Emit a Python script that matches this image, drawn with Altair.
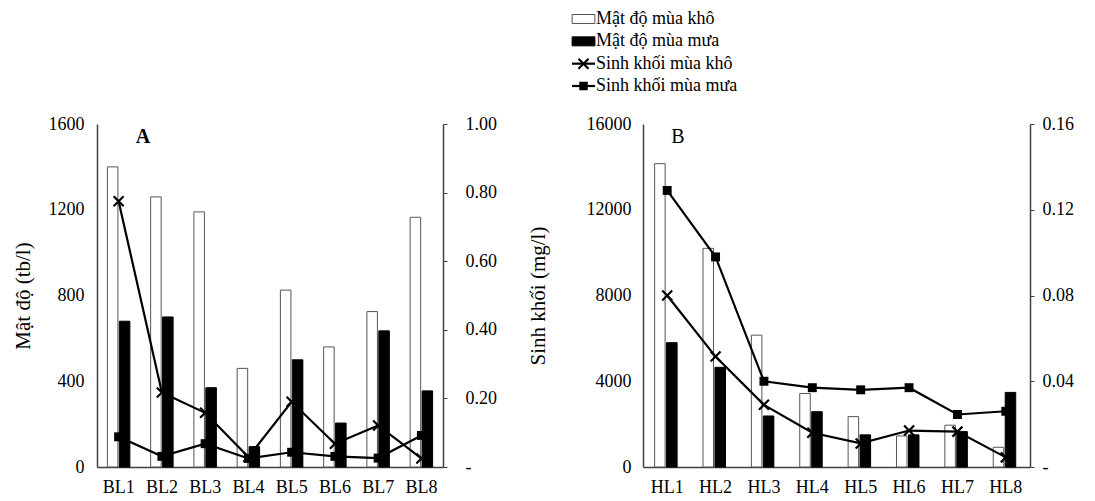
import altair as alt
import pandas as pd

# ---------------- data ----------------
sites_A = ["BL1", "BL2", "BL3", "BL4", "BL5", "BL6", "BL7", "BL8"]
dens_dry_A = [1400, 1260, 1190, 460, 825, 560, 725, 1165]
dens_wet_A = [680, 700, 370, 95, 500, 205, 635, 355]
bio_dry_A = [0.775, 0.217, 0.158, 0.029, 0.19, 0.068, 0.121, 0.025]
bio_wet_A = [0.088, 0.031, 0.068, 0.025, 0.043, 0.031, 0.026, 0.092]

sites_B = ["HL1", "HL2", "HL3", "HL4", "HL5", "HL6", "HL7", "HL8"]
dens_dry_B = [14150, 10200, 6150, 3430, 2350, 1450, 1950, 920]
dens_wet_B = [5800, 4650, 2380, 2580, 1500, 1500, 1650, 3480]
bio_dry_B = [0.080, 0.0515, 0.029, 0.016, 0.011, 0.017, 0.0165, 0.0045]
bio_wet_B = [0.129, 0.098, 0.040, 0.037, 0.036, 0.037, 0.0245, 0.026]

seasons = ["dry", "wet"]
leg_labels = ["Mật độ mùa khô", "Mật độ mùa mưa", "Sinh khối mùa khô", "Sinh khối mùa mưa"]
leg_kinds = ["bar_dry", "bar_wet", "line_dry", "line_wet"]
panel_labels = ["A", "B"]
title_dens = "Mật độ (tb/l)"
title_bio = "Sinh khối (mg/l)"

SERIF = "Liberation Serif, Times New Roman, serif"
X_PATH = "M-1,-1L1,1M-1,1L1,-1"
RECT_PATH = "M-1.9,-0.75H1.9V0.75H-1.9Z"
AXIS_COLOR = "#404040"


def panel(sites, dens_dry, dens_wet, bio_dry, bio_wet, dens_max, dens_step,
          bio_max, bio_step, letter, letter_x, letter_weight, width,
          left_title, right_title, left_pad, left_title_pad, right_title_pad):
    n = len(sites)
    bars = pd.DataFrame({"site": sites * 2,
                         "season": ["dry"] * n + ["wet"] * n,
                         "value": dens_dry + dens_wet})
    lines = pd.DataFrame({"site": sites * 2,
                          "season": ["dry"] * n + ["wet"] * n,
                          "value": bio_dry + bio_wet})

    xscale = alt.Scale(domain=sites, paddingInner=0.48, paddingOuter=0.24)
    xaxis = alt.Axis(title=None, labelAngle=0, ticks=False, tickSize=0,
                     labelPadding=11, labelFont=SERIF, labelFontSize=18,
                     labelColor="black", domainColor=AXIS_COLOR, domainWidth=1.5)
    X = alt.X("site:N", scale=xscale, axis=xaxis, sort=sites)

    dens_vals = list(range(0, dens_max + 1, dens_step))
    left_axis = alt.Axis(values=dens_vals, format="d", ticks=False, tickSize=0,
                         labelPadding=left_pad, labelFont=SERIF, labelFontSize=18,
                         labelColor="black", domainColor=AXIS_COLOR, domainWidth=1.5,
                         title=left_title, titleFont=SERIF, titleFontSize=21,
                         titleFontWeight="normal", titleColor="black",
                         titlePadding=left_title_pad)
    bio_vals = [round(bio_step * i, 4) for i in range(int(round(bio_max / bio_step)) + 1)]
    right_axis = alt.Axis(orient="right", values=bio_vals,
                          labelExpr="datum.value == 0 ? '-' : format(datum.value, '.2f')",
                          ticks=True, tickSize=4, tickColor=AXIS_COLOR,
                          labelPadding=8 if right_title is None else 18,
                          labelFont=SERIF, labelFontSize=18, labelColor="black",
                          domainColor=AXIS_COLOR, domainWidth=1.5,
                          title=right_title, titleFont=SERIF, titleFontSize=21,
                          titleFontWeight="normal", titleColor="black",
                          titleAngle=270, titlePadding=right_title_pad)
    yb = alt.Scale(domain=[0, bio_max], nice=False)

    bar = alt.Chart(bars).mark_bar(strokeWidth=1, opacity=1).encode(
        x=X,
        xOffset=alt.XOffset("season:N", sort=seasons,
                            scale=alt.Scale(domain=seasons, paddingInner=0.12)),
        y=alt.Y("value:Q", scale=alt.Scale(domain=[0, dens_max], nice=False), axis=left_axis),
        fill=alt.Fill("season:N", scale=alt.Scale(domain=seasons, range=["white", "black"]), legend=None),
        stroke=alt.Stroke("season:N", scale=alt.Scale(domain=seasons, range=["#7f7f7f", "black"]), legend=None),
    )
    line = alt.Chart(lines).mark_line(color="black", strokeWidth=2.2).encode(
        x=X,
        y=alt.Y("value:Q", scale=yb, axis=right_axis),
        detail="season:N",
    )
    pts_dry = alt.Chart(lines).transform_filter("datum.season == 'dry'").mark_point(
        shape=X_PATH, filled=False, size=100, strokeWidth=2.2, color="black", opacity=1
    ).encode(x=X, y=alt.Y("value:Q", scale=yb, axis=None))
    pts_wet = alt.Chart(lines).transform_filter("datum.season == 'wet'").mark_square(
        size=80, color="black", opacity=1
    ).encode(x=X, y=alt.Y("value:Q", scale=yb, axis=None))
    txt = alt.Chart(pd.DataFrame({"label": [letter]})).mark_text(
        font=SERIF, fontSize=20, fontWeight=letter_weight, color="black"
    ).encode(text="label:N", x=alt.value(letter_x), y=alt.value(13))

    return alt.layer(bar, line, pts_dry, pts_wet, txt).resolve_scale(y="independent").properties(
        width=width, height=343)


chart_A = panel(sites_A, dens_dry_A, dens_wet_A, bio_dry_A, bio_wet_A, 1600, 400,
                1.0, 0.2, panel_labels[0], 46, "bold", 346, title_dens, title_bio, 13, 15, 52)
chart_B = panel(sites_B, dens_dry_B, dens_wet_B, bio_dry_B, bio_wet_B, 16000, 4000,
                0.16, 0.04, panel_labels[1], 35, "normal", 387, None, None, 12, 0, 0)

# ---------------- legend (origin aligned with panel A's plot origin) ----------------
leg = pd.DataFrame({"row": list(range(len(leg_labels))), "label": leg_labels, "kind": leg_kinds})
ly = alt.Y("row:Q", scale=alt.Scale(domain=[0, 3], range=[11, 78]), axis=None)
leg_text = alt.Chart(leg).mark_text(align="left", baseline="middle", font=SERIF,
                                    fontSize=18, color="black").encode(
    x=alt.value(499), y=ly, text="label:N")
leg_sw = alt.Chart(leg).transform_filter("datum.row < 2").mark_point(
    shape=RECT_PATH, filled=True, size=144, strokeWidth=1, opacity=1).encode(
    x=alt.value(486.5), y=ly,
    fill=alt.Fill("kind:N", scale=alt.Scale(domain=leg_kinds[:2], range=["white", "black"]), legend=None),
    stroke=alt.Stroke("kind:N", scale=alt.Scale(domain=leg_kinds[:2], range=["#555555", "black"]), legend=None))
leg_line = alt.Chart(leg).transform_filter("datum.row >= 2").mark_rule(
    color="black", strokeWidth=2.2).encode(x=alt.value(475), x2=alt.value(498), y=ly)
leg_x = alt.Chart(leg).transform_filter("datum.row == 2").mark_point(
    shape=X_PATH, filled=False, size=100, strokeWidth=2.2, color="black", opacity=1).encode(
    x=alt.value(486.5), y=ly)
leg_sq = alt.Chart(leg).transform_filter("datum.row == 3").mark_square(
    size=72, color="black", opacity=1).encode(x=alt.value(486.5), y=ly)
legend_chart = alt.layer(leg_sw, leg_line, leg_x, leg_sq, leg_text).properties(width=700, height=95)

chart = alt.vconcat(
    legend_chart,
    alt.hconcat(chart_A, chart_B, spacing=37),
    spacing=12,
).properties(
    padding={"left": 4, "top": 0, "right": 0, "bottom": 0}
).configure_view(stroke=None).configure_axis(grid=False)

chart.save("out.html", embed_options={"renderer": "svg", "actions": False})
